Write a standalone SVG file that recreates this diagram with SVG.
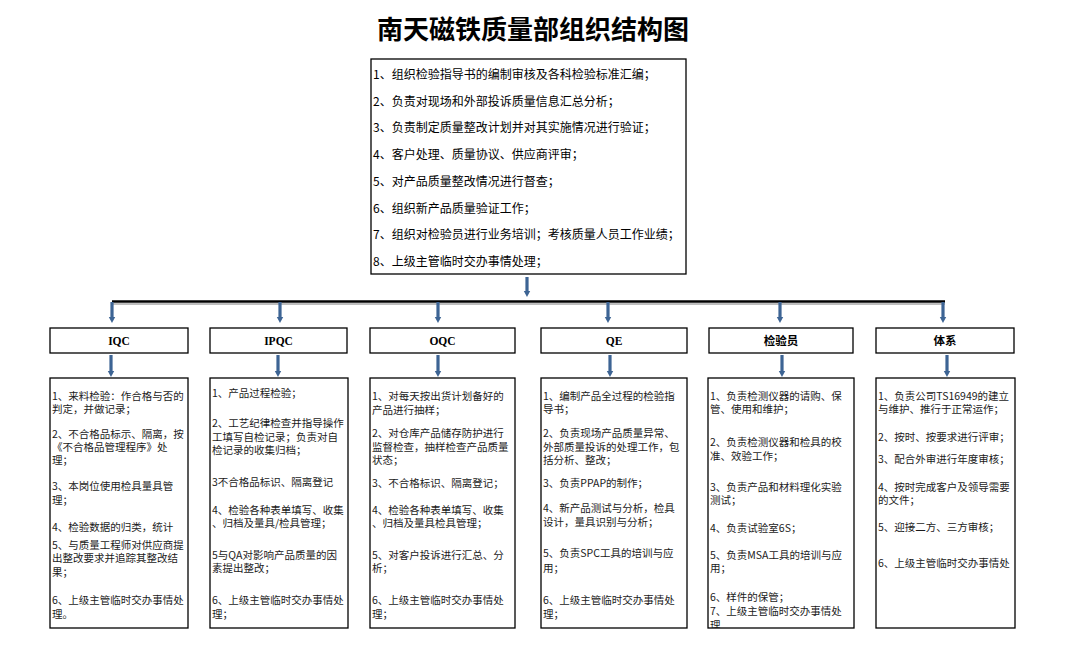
<svg xmlns="http://www.w3.org/2000/svg" width="1080" height="647" viewBox="0 0 1080 647">
<style>
.bg{fill:#ffffff}
.box{fill:#ffffff;stroke:#000000;stroke-width:1.3}
.title{font-family:"Liberation Serif","Noto Sans CJK SC",serif;font-weight:bold;font-size:26px;fill:#000}
.top{font-family:"Noto Sans CJK SC",sans-serif;font-size:12px;fill:#000}
.hd{font-family:"Liberation Serif","Noto Sans CJK SC",serif;font-weight:bold;font-size:11.5px;fill:#000;text-anchor:middle}
.tx{font-family:"Noto Sans CJK SC",sans-serif;font-size:10.5px;fill:#1a1a1a}
.arr{stroke:#3d6494;stroke-width:3.2;fill:none;marker-end:url(#ah)}
.bus{stroke:#000;stroke-width:2.5}
.shadow{stroke:#a8a8a8;stroke-width:1.5}
</style>
<defs>
<marker id="ah" markerUnits="userSpaceOnUse" markerWidth="8" markerHeight="8" viewBox="0 0 8 8" refX="1" refY="4" orient="auto">
<path d="M0,0.8 L6,4 L0,7.2 z" fill="#3d6494"/>
</marker>
<clipPath id="clipJ"><rect x="708" y="378" width="146" height="250"/></clipPath>
<clipPath id="clipT"><rect x="876" y="378" width="139" height="250"/></clipPath>
</defs>
<rect class="bg" x="0" y="0" width="1080" height="647"/>
<text class="title" x="533" y="39" text-anchor="middle">南天磁铁质量部组织结构图</text>

<g id="top-box">
<rect class="box" x="371" y="59" width="315" height="215"/>
<text class="top" x="373" y="79">1、组织检验指导书的编制审核及各科检验标准汇编；</text>
<text class="top" x="373" y="106">2、负责对现场和外部投诉质量信息汇总分析；</text>
<text class="top" x="373" y="132">3、负责制定质量整改计划并对其实施情况进行验证；</text>
<text class="top" x="373" y="159">4、客户处理、质量协议、供应商评审；</text>
<text class="top" x="373" y="186">5、对产品质量整改情况进行督查；</text>
<text class="top" x="373" y="213">6、组织新产品质量验证工作；</text>
<text class="top" x="373" y="239">7、组织对检验员进行业务培训；考核质量人员工作业绩；</text>
<text class="top" x="373" y="266">8、上级主管临时交办事情处理；</text>
</g>

<g id="connectors">
<line class="shadow" x1="113" y1="304" x2="945" y2="304"/>
<line class="bus" x1="112" y1="301.5" x2="945" y2="301.5"/>
<line class="arr" x1="527" y1="277" x2="527" y2="292"/>
<line class="arr" x1="112" y1="302" x2="112" y2="318"/>
<line class="arr" x1="280" y1="302" x2="280" y2="318"/>
<line class="arr" x1="438" y1="302" x2="438" y2="318"/>
<line class="arr" x1="608" y1="302" x2="608" y2="318"/>
<line class="arr" x1="780" y1="302" x2="780" y2="318"/>
<line class="arr" x1="943" y1="302" x2="943" y2="318"/>
<line class="arr" x1="111" y1="355" x2="111" y2="372"/>
<line class="arr" x1="278" y1="355" x2="278" y2="372"/>
<line class="arr" x1="438" y1="355" x2="438" y2="372"/>
<line class="arr" x1="610" y1="355" x2="610" y2="372"/>
<line class="arr" x1="782" y1="355" x2="782" y2="372"/>
<line class="arr" x1="947" y1="355" x2="947" y2="372"/>
</g>

<g id="hd-iqc"><rect class="box" x="50" y="328" width="138" height="25"/><text class="hd" x="119" y="345">IQC</text></g>
<g id="hd-ipqc"><rect class="box" x="210" y="328" width="137" height="25"/><text class="hd" x="278.5" y="345">IPQC</text></g>
<g id="hd-oqc"><rect class="box" x="370" y="328" width="145" height="25"/><text class="hd" x="442.5" y="345">OQC</text></g>
<g id="hd-qe"><rect class="box" x="541" y="328" width="146" height="25"/><text class="hd" x="614" y="345">QE</text></g>
<g id="hd-jyy"><rect class="box" x="709" y="328" width="144" height="25"/><text class="hd" x="781" y="345">检验员</text></g>
<g id="hd-tx"><rect class="box" x="876" y="328" width="138" height="25"/><text class="hd" x="945" y="345">体系</text></g>

<g id="box-iqc">
<rect class="box" x="50" y="378" width="138" height="250"/>
<text class="tx" x="52" y="400">1、来料检验：作合格与否的</text>
<text class="tx" x="52" y="413">判定，并做记录；</text>
<text class="tx" x="52" y="438">2、不合格品标示、隔离，按</text>
<text class="tx" x="52" y="451">《不合格品管理程序》处</text>
<text class="tx" x="52" y="464">理；</text>
<text class="tx" x="52" y="490">3、本岗位使用检具量具管</text>
<text class="tx" x="52" y="504">理；</text>
<text class="tx" x="52" y="531">4、检验数据的归类，统计</text>
<text class="tx" x="52" y="549">5、与质量工程师对供应商提</text>
<text class="tx" x="52" y="562">出整改要求并追踪其整改结</text>
<text class="tx" x="52" y="576">果；</text>
<text class="tx" x="52" y="604">6、上级主管临时交办事情处</text>
<text class="tx" x="52" y="618">理。</text>
</g>

<g id="box-ipqc">
<rect class="box" x="210" y="378" width="138" height="250"/>
<text class="tx" x="212" y="397">1、产品过程检验；</text>
<text class="tx" x="212" y="427">2、工艺纪律检查并指导操作</text>
<text class="tx" x="212" y="441">工填写自检记录；负责对自</text>
<text class="tx" x="212" y="454">检记录的收集归档；</text>
<text class="tx" x="212" y="486">3不合格品标识、隔离登记</text>
<text class="tx" x="212" y="514">4、检验各种表单填写、收集</text>
<text class="tx" x="212" y="527">、归档及量具/检具管理；</text>
<text class="tx" x="212" y="559">5与QA对影响产品质量的因</text>
<text class="tx" x="212" y="572">素提出整改；</text>
<text class="tx" x="212" y="604">6、上级主管临时交办事情处</text>
<text class="tx" x="212" y="618">理；</text>
</g>

<g id="box-oqc">
<rect class="box" x="370" y="378" width="145" height="250"/>
<text class="tx" x="372" y="400">1、对每天按出货计划备好的</text>
<text class="tx" x="372" y="414">产品进行抽样；</text>
<text class="tx" x="372" y="437">2、对仓库产品储存防护进行</text>
<text class="tx" x="372" y="451">监督检查，抽样检查产品质量</text>
<text class="tx" x="372" y="464">状态；</text>
<text class="tx" x="372" y="487">3、不合格标识、隔离登记；</text>
<text class="tx" x="372" y="514">4、检验各种表单填写、收集</text>
<text class="tx" x="372" y="527">、归档及量具检具管理；</text>
<text class="tx" x="372" y="559">5、对客户投诉进行汇总、分</text>
<text class="tx" x="372" y="572">析；</text>
<text class="tx" x="372" y="604">6、上级主管临时交办事情处</text>
<text class="tx" x="372" y="618">理；</text>
</g>

<g id="box-qe">
<rect class="box" x="541" y="378" width="146" height="250"/>
<text class="tx" x="543" y="400">1、编制产品全过程的检验指</text>
<text class="tx" x="543" y="413">导书；</text>
<text class="tx" x="543" y="437">2、负责现场产品质量异常、</text>
<text class="tx" x="543" y="451">外部质量投诉的处理工作，包</text>
<text class="tx" x="543" y="464">括分析、整改；</text>
<text class="tx" x="543" y="487">3、负责PPAP的制作；</text>
<text class="tx" x="543" y="512">4、新产品测试与分析，检具</text>
<text class="tx" x="543" y="526">设计，量具识别与分析；</text>
<text class="tx" x="543" y="557">5、负责SPC工具的培训与应</text>
<text class="tx" x="543" y="572">用；</text>
<text class="tx" x="543" y="604">6、上级主管临时交办事情处</text>
<text class="tx" x="543" y="618">理；</text>
</g>

<g id="box-jyy">
<rect class="box" x="708" y="378" width="146" height="250"/>
<g clip-path="url(#clipJ)">
<text class="tx" x="710" y="400">1、负责检测仪器的请购、保</text>
<text class="tx" x="710" y="413">管、使用和维护；</text>
<text class="tx" x="710" y="446">2、负责检测仪器和检具的校</text>
<text class="tx" x="710" y="460">准、效验工作；</text>
<text class="tx" x="710" y="491">3、负责产品和材料理化实验</text>
<text class="tx" x="710" y="504">测试；</text>
<text class="tx" x="710" y="532">4、负责试验室6S；</text>
<text class="tx" x="710" y="559">5、负责MSA工具的培训与应</text>
<text class="tx" x="710" y="572">用；</text>
<text class="tx" x="710" y="601">6、样件的保管；</text>
<text class="tx" x="710" y="615">7、上级主管临时交办事情处</text>
<text class="tx" x="710" y="629">理</text>
</g>
</g>

<g id="box-tixi">
<rect class="box" x="876" y="378" width="139" height="250"/>
<g clip-path="url(#clipT)">
<text class="tx" x="878" y="400">1、负责公司TS16949的建立</text>
<text class="tx" x="878" y="413">与维护、推行于正常运作；</text>
<text class="tx" x="878" y="441">2、按时、按要求进行评审；</text>
<text class="tx" x="878" y="463">3、配合外审进行年度审核；</text>
<text class="tx" x="878" y="491">4、按时完成客户及领导需要</text>
<text class="tx" x="878" y="504">的文件；</text>
<text class="tx" x="878" y="531">5、迎接二方、三方审核；</text>
<text class="tx" x="878" y="567">6、上级主管临时交办事情处</text>
</g>
</g>
</svg>
